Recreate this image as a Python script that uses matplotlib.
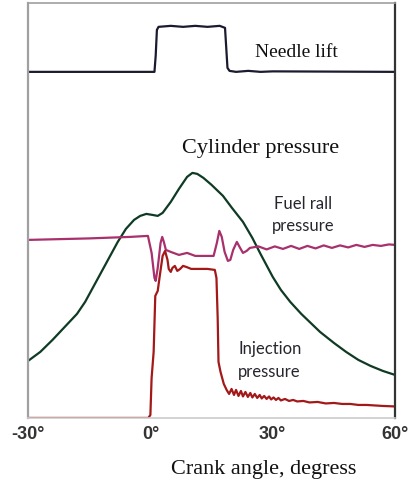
import matplotlib.pyplot as plt

# crank angle (deg) and trace levels (arbitrary units, 0 = bottom of frame)
needle_deg = [-30, 1.0, 1.3, 1.6, 2.0, 5, 8, 11, 14, 17, 18.3, 18.6, 18.9, 19.4, 21, 24, 27, 30, 60]
needle_val = [346, 346, 362, 388, 391, 392, 391, 392, 391, 392, 390, 370, 350, 347, 346, 347, 346, 346.5, 346]

cyl_deg = [-30, -27, -24, -21, -18, -16, -14, -12, -10, -8, -6, -4, -2.5, -1, 0.5, 1.8, 3, 5, 7, 9,
           10.3, 11.5, 13, 15, 17.8, 20, 22.7, 25, 27, 30, 32, 34.3, 37, 41.6, 45, 48, 51, 54, 57, 60]
cyl_val = [57, 66, 78, 91, 104, 116, 131, 146, 161, 176, 189, 198, 202, 204, 203, 202, 205, 216, 229, 241,
           245, 244, 240, 233, 222, 210, 196, 180, 164, 141, 128, 116, 104, 86, 75, 66, 58, 52, 47, 43]

rail_deg = [-30, -15, -5, -0.6, 0.3, 1.0, 1.3, 1.8, 2.5, 2.9, 3.3, 3.8, 5, 7, 9, 11, 13, 15.5,
            16.3, 16.9, 17.5, 18.2, 19, 19.6, 20.3, 21.2, 22, 22.7, 23.6, 24.4,
            26.5, 28.5, 30.5, 32.5, 34.5, 36.5, 38.5, 40.5, 42.5, 44.5, 46.5, 48.5,
            50.5, 52.5, 54.5, 56.5, 58.5, 60]
rail_val = [178, 179.5, 181, 182, 165, 140, 137, 150, 175, 181, 176, 168, 166, 163, 165, 162, 162, 162,
            175, 187, 181, 166, 157, 158, 168, 176, 170, 165, 167, 170,
            171.5, 168.5, 171.5, 169, 172, 169, 172, 169.5, 172.5, 170, 172.5, 170.5,
            173, 171, 173, 172, 173.5, 173]

inj_deg = [-30, -0.5, 0.0, 0.3, 0.8, 1.2, 1.8, 2.3, 3.0, 3.6, 4.2, 4.5, 5.0, 5.4, 6.0, 6.6, 7.3, 8.0,
           8.8, 10, 12, 14, 15.8, 16.2, 16.5, 16.7, 17.2, 18.0, 18.7, 19.3,
           19.9, 20.5, 21.0, 21.6, 22.2, 22.7, 23.3, 23.9, 24.5, 25.0, 25.6, 26.2, 26.8, 27.3,
           27.9, 28.5, 29.1, 29.6, 30.2, 30.8, 31.4, 32, 33, 34, 35, 36, 37.5, 39, 41, 43,
           45, 47, 49, 51, 53, 55, 57, 60]
inj_val = [0, 0, 3, 40, 66, 122, 127, 142, 162, 167, 158, 149, 146, 150, 152, 147, 149, 152,
           151, 149, 149, 149, 148, 140, 100, 56, 46, 34, 28, 24,
           29, 23, 28, 22, 27, 21.5, 26, 21, 25, 20.5, 24, 20, 23, 19.5,
           22, 19, 21.5, 18.5, 20.5, 18, 20, 17.5, 19, 17, 18, 16.5, 17, 15.5, 16, 14.5,
           15, 14, 14, 13, 13, 12.5, 12, 11.5]

tick_pos = [-30, 0, 30, 60]
tick_txt = ['-30°', '0°', '30°', '60°']

fig = plt.figure(figsize=(4.12, 4.81), dpi=100)
ax = fig.add_axes([0.068, 0.129, 0.891, 0.863])

ax.plot(needle_deg, needle_val, color='#1b1b2f', lw=1.6)
ax.plot(cyl_deg, cyl_val, color='#0f3a24', lw=1.6)
ax.plot(rail_deg, rail_val, color='#a8306c', lw=1.6)
ax.plot(inj_deg, inj_val, color='#a31818', lw=1.6)

ax.set_xlim(-30, 60)
ax.set_ylim(0, 415)
ax.set_yticks([])
ax.set_xticks(tick_pos)
ax.set_xticklabels(tick_txt, fontsize=13, fontweight='bold', color='#333333',
                   family='Liberation Sans')
ax.tick_params(axis='x', length=0, pad=5)

ax.spines['left'].set_color('#a0a0a0')
ax.spines['left'].set_linewidth(1.6)
ax.spines['top'].set_color('#a0a0a0')
ax.spines['top'].set_linewidth(1.2)
ax.spines['right'].set_color('#333333')
ax.spines['right'].set_linewidth(1.6)
ax.spines['bottom'].set_color('#cccccc')
ax.spines['bottom'].set_linewidth(1.2)

serif = 'Liberation Serif'
ax.text(25.7, 366, 'Needle lift', fontsize=14, family=serif, color='#111111',
        ha='left', va='center')
ax.text(26.9, 270, 'Cylinder pressure', fontsize=16, family=serif, color='#111111',
        ha='center', va='center')
ax.text(37.4, 204, 'Fuel rall\npressure', fontsize=12, family='Lato', color='#26262e',
        ha='center', va='center', linespacing=1.5)
ax.text(21.5, 58.5, 'Injection\npressure', fontsize=12, family='Lato', color='#26262e',
        ha='left', va='center', linespacing=1.5)
ax.text(27.9, -51, 'Crank angle, degress', fontsize=16, family=serif, color='#111111',
        ha='center', va='center', clip_on=False)

fig.savefig('out.png', dpi=100)
